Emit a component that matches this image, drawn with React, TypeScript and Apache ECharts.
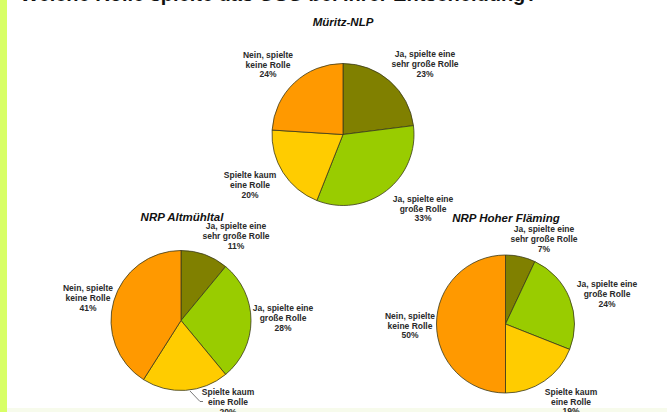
import React, { useEffect, useRef } from "react";
import * as echarts from "echarts";

const mainTitle = "Welche Rolle spielte das GSG bei Ihrer Entscheidung?";
const categories = [
  "Ja, spielte eine\nsehr große Rolle",
  "Ja, spielte eine\ngroße Rolle",
  "Spielte kaum\neine Rolle",
  "Nein, spielte\nkeine Rolle",
];
const colors = ["#808000", "#99cc00", "#ffcc00", "#ff9900"];
const parkNames = ["Müritz-NLP", "NRP Altmühltal", "NRP Hoher Fläming"];
const muritzValues = [23, 33, 20, 24];
const altmuehltalValues = [11, 28, 20, 41];
const flaemingValues = [7, 24, 19, 50];

// layout (pixel positions) – not data
const pieCenters: [number, number][] = [
  [343, 134.5],
  [181, 320.5],
  [505.5, 324],
];
const pieRadii = [71, 70, 69];
const titlePos: [number, number][] = [
  [343, 22],
  [182, 216.5],
  [506, 217.5],
];
const labelPos: [number, number][][] = [
  [
    [425, 64],
    [423, 208.5],
    [250, 185],
    [268, 64.5],
  ],
  [
    [236, 236],
    [283, 318],
    [228, 402],
    [88, 298],
  ],
  [
    [544, 239],
    [607, 294],
    [571, 401.5],
    [410, 325.5],
  ],
];

export default function App() {
  const ref = useRef<HTMLDivElement>(null);
  useEffect(() => {
    if (!ref.current) return;
    const chart = echarts.init(ref.current, null, { renderer: "svg" });
    const allValues = [muritzValues, altmuehltalValues, flaemingValues];
    const series = allValues.map((vals, si) => ({
      type: "pie",
      center: pieCenters[si],
      radius: pieRadii[si],
      startAngle: 90,
      clockwise: true,
      silent: true,
      avoidLabelOverlap: false,
      itemStyle: { borderColor: "#3a3a1a", borderWidth: 0.8 },
      label: {
        show: true,
        formatter: (p: any) => `${p.name}\n${p.value}%`,
        fontFamily: "Liberation Sans, Arial, sans-serif",
        fontWeight: "bold",
        fontSize: 8.5,
        lineHeight: 9.8,
        color: "#2a2a2a",
        align: "center",
      },
      labelLine: {
        show: false,
        lineStyle: { color: "#555", width: 0.8 },
      },
      labelLayout: (params: any) => {
        const pos = labelPos[si][params.dataIndex];
        const res: any = {
          x: pos[0],
          y: pos[1],
          align: "center",
          verticalAlign: "middle",
        };
        if (si === 1 && params.dataIndex === 2) {
          res.labelLinePoints = [
            [190, 391],
            [200, 401.5],
            [203, 401.5],
          ];
        }
        return res;
      },
      data: vals.map((v, i) => ({
        name: categories[i],
        value: v,
        itemStyle: { color: colors[i] },
        labelLine: { show: si === 1 && i === 2 },
      })),
    }));

    chart.setOption({
      animation: false,
      backgroundColor: "#ffffff",
      graphic: [
        {
          type: "rect",
          shape: { x: 0, y: 0, width: 7, height: 412 },
          style: { fill: "#d8ff66" },
          z: -10,
        },
        {
          type: "rect",
          shape: { x: 7, y: 408, width: 660, height: 4 },
          style: { fill: "#f7fbec" },
          z: -10,
        },
        {
          type: "text",
          x: 20,
          y: 4,
          style: {
            text: mainTitle,
            fontFamily: "Liberation Sans, Arial, sans-serif",
            fontWeight: "bold",
            fontSize: 20,
            fill: "#111",
            verticalAlign: "bottom",
            align: "left",
          },
        },
        ...parkNames.map((n, i) => ({
          type: "text",
          x: titlePos[i][0],
          y: titlePos[i][1],
          style: {
            text: n,
            fontFamily: "Liberation Sans, Arial, sans-serif",
            fontWeight: "bold",
            fontStyle: "italic",
            fontSize: 11.5,
            fill: "#111",
            align: "center",
            verticalAlign: "middle",
          },
        })),
      ],
      series,
    });
    return () => chart.dispose();
  }, []);
  return (
    <div
      ref={ref}
      style={{ position: "absolute", left: 0, top: 0, width: 667, height: 412 }}
    />
  );
}
